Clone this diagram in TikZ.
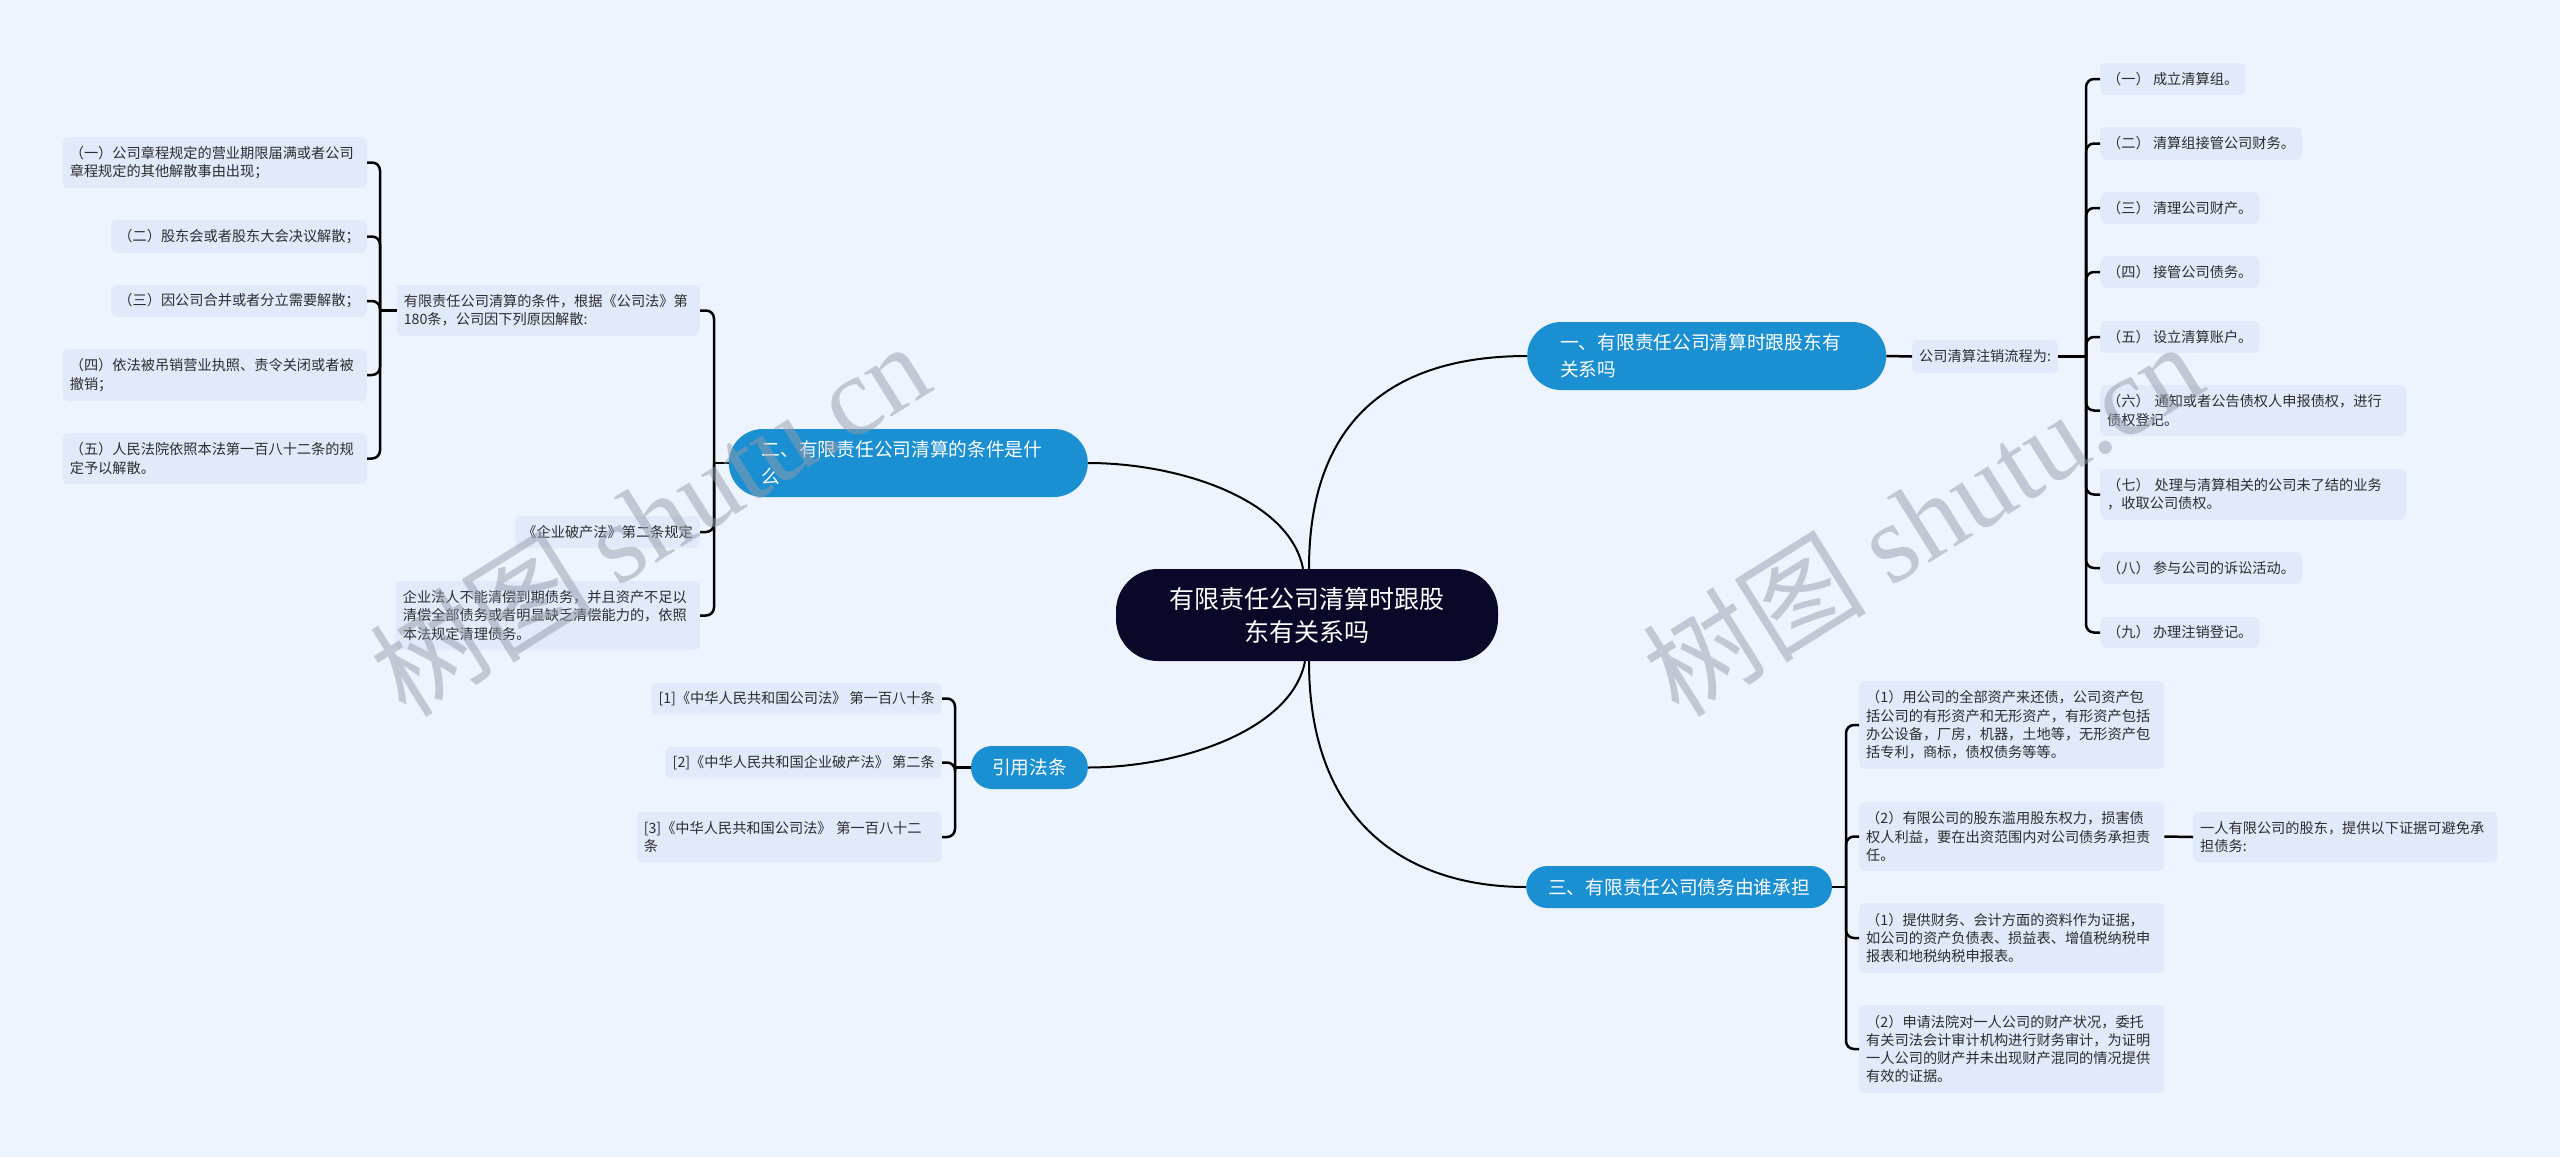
\documentclass[tikz,border=0pt]{standalone}
\usepackage{fontspec}
\setmainfont{Noto Sans CJK SC}
\newfontfamily\wmlatin{Liberation Serif}
\definecolor{bgc}{RGB}{238,244,253}
\definecolor{leafc}{RGB}{224,234,250}
\definecolor{bluec}{RGB}{26,143,210}
\definecolor{rootc}{RGB}{10,8,40}
\definecolor{txtc}{RGB}{45,45,45}
\definecolor{wmc}{RGB}{150,156,170}
\begin{document}
\begin{tikzpicture}[x=1pt,y=-1pt,
 leaf/.style={fill=leafc, rounded corners=5pt, font=\fontsize{14.2}{18.3}\selectfont, align=left, inner xsep=7pt, inner ysep=2pt, text=txtc},
 topic/.style={fill=bluec, text=white, font=\fontsize{18.7}{27}\selectfont, inner ysep=2pt},
 curve/.style={line width=2pt, black},
 link/.style={line width=2.5pt, black, rounded corners=8pt},
 wm/.style={rotate=32, text=wmc, text opacity=0.5, font=\fontsize{112}{112}\selectfont},
]
\fill[bgc] (0,0) rectangle (2560,1157);
\useasboundingbox (0,0) rectangle (2560,1157);

% root and topics
\node[fill=rootc, text=white, rounded corners=42pt, minimum width=382pt, minimum height=92pt, align=center, font=\fontsize{25}{33}\selectfont] (root) at (1307,615) {有限责任公司清算时跟股\\东有关系吗};
\node[topic, anchor=west, text width=293pt, align=left, inner xsep=33pt, minimum height=68pt, rounded corners=34pt] (n1) at (1527,356) {一、有限责任公司清算时跟股东有\\关系吗};
\node[topic, anchor=east, text width=293pt, align=left, inner xsep=33pt, minimum height=68pt, rounded corners=34pt] (n2) at (1088,463) {二、有限责任公司清算的条件是什\\么};
\node[topic, anchor=west, inner xsep=22pt, minimum height=42pt, rounded corners=21pt] (n3) at (1526,887) {三、有限责任公司债务由谁承担};
\node[topic, anchor=east, inner xsep=21pt, minimum height=43pt, rounded corners=21pt] (n4) at (1088,767.5) {引用法条};

% main curves
\draw[curve] ([xshift=2pt]root.north) .. controls +(0,-170) and +(-110,0) .. (n1.west);
\draw[curve] ([xshift=-4pt]root.north) .. controls +(-13,-69) and +(92,0) .. (n2.east);
\draw[curve] ([xshift=-2pt]root.south) .. controls +(-13,69) and +(92,0) .. (n4.east);
\draw[curve] ([xshift=2pt]root.south) .. controls +(0,170) and +(-110,0) .. (n3.west);

% branch one
\node[leaf, anchor=west, minimum height=33pt] (b0) at (1912,356.5) {公司清算注销流程为:};
\node[leaf, anchor=west, minimum height=32pt] (b1) at (2100,79) {（一）~成立清算组。};
\node[leaf, anchor=west, minimum height=33pt] (b2) at (2100,143.5) {（二）~清算组接管公司财务。};
\node[leaf, anchor=west, minimum height=32pt] (b3) at (2100,208) {（三）~清理公司财产。};
\node[leaf, anchor=west, minimum height=32pt] (b4) at (2100,272) {（四）~接管公司债务。};
\node[leaf, anchor=west, minimum height=32pt] (b5) at (2100,337) {（五）~设立清算账户。};
\node[leaf, anchor=west, text width=292pt, minimum height=51pt] (b6) at (2100,410.5) {（六）~通知或者公告债权人申报债权，进行\\债权登记。};
\node[leaf, anchor=west, text width=292pt, minimum height=51pt] (b7) at (2100,494.5) {（七）~处理与清算相关的公司未了结的业务\\，收取公司债权。};
\node[leaf, anchor=west, minimum height=32pt] (b8) at (2100,568) {（八）~参与公司的诉讼活动。};
\node[leaf, anchor=west, minimum height=31pt] (b9) at (2100,632.5) {（九）~办理注销登记。};
\coordinate (jb) at (2086,356.5);
\draw[link] (n1.east) -- (b0.west);
\draw[link] (b0.east) -- (jb);
\foreach \c in {b1,b2,b3,b4,b5,b6,b7,b8,b9} \draw[link] (jb) |- (\c.west);

% branch two
\node[leaf, anchor=east, text width=289pt, minimum height=51pt] (l0) at (700,310.5) {有限责任公司清算的条件，根据《公司法》第\\180条，公司因下列原因解散:};
\node[leaf, anchor=east, minimum height=32pt] (l1) at (700,532) {《企业破产法》第二条规定};
\node[leaf, anchor=east, text width=290pt, minimum height=69pt] (l2) at (700,615.5) {企业法人不能清偿到期债务，并且资产不足以\\清偿全部债务或者明显缺乏清偿能力的，依照\\本法规定清理债务。};
\coordinate (j2) at (714,463);
\draw[link] (n2.west) -- (j2);
\foreach \c in {l0,l1,l2} \draw[link] (j2) |- (\c.east);

\node[leaf, anchor=east, text width=290pt, minimum height=51pt] (a1) at (367,162.5) {（一）公司章程规定的营业期限届满或者公司\\章程规定的其他解散事由出现；};
\node[leaf, anchor=east, minimum height=33pt] (a2) at (367,236.5) {（二）股东会或者股东大会决议解散；};
\node[leaf, anchor=east, minimum height=32pt] (a3) at (367,301) {（三）因公司合并或者分立需要解散；};
\node[leaf, anchor=east, text width=290pt, minimum height=52pt] (a4) at (367,375) {（四）依法被吊销营业执照、责令关闭或者被\\撤销；};
\node[leaf, anchor=east, text width=290pt, minimum height=51pt] (a5) at (367,458.5) {（五）人民法院依照本法第一百八十二条的规\\定予以解散。};
\coordinate (ja) at (380,310.5);
\draw[link] (l0.west) -- (ja);
\foreach \c in {a1,a2,a3,a4,a5} \draw[link] (ja) |- (\c.east);

% citations
\node[leaf, anchor=east, minimum height=31pt] (r1) at (942,698.5) {[1]《中华人民共和国公司法》~第一百八十条};
\node[leaf, anchor=east, minimum height=31pt] (r2) at (942,762.5) {[2]《中华人民共和国企业破产法》~第二条};
\node[leaf, anchor=east, text width=291pt, minimum height=50pt] (r3) at (942,837) {[3]《中华人民共和国公司法》~第一百八十二\\条};
\coordinate (jr) at (955,767.5);
\draw[link] (n4.west) -- (jr);
\foreach \c in {r1,r2,r3} \draw[link] (jr) |- (\c.east);

% branch three
\node[leaf, anchor=west, text width=291pt, minimum height=88pt] (c1) at (1859,725) {（1）用公司的全部资产来还债，公司资产包\\括公司的有形资产和无形资产，有形资产包括\\办公设备，厂房，机器，土地等，无形资产包\\括专利，商标，债权债务等等。};
\node[leaf, anchor=west, text width=291pt, minimum height=69pt] (c2) at (1859,836.5) {（2）有限公司的股东滥用股东权力，损害债\\权人利益，要在出资范围内对公司债务承担责\\任。};
\node[leaf, anchor=west, text width=291pt, minimum height=70pt] (c3) at (1859,938) {（1）提供财务、会计方面的资料作为证据，\\如公司的资产负债表、损益表、增值税纳税申\\报表和地税纳税申报表。};
\node[leaf, anchor=west, text width=291pt, minimum height=88pt] (c4) at (1859,1049) {（2）申请法院对一人公司的财产状况，委托\\有关司法会计审计机构进行财务审计，为证明\\一人公司的财产并未出现财产混同的情况提供\\有效的证据。};
\node[leaf, anchor=west, text width=290pt, minimum height=50pt] (c5) at (2193,837) {一人有限公司的股东，提供以下证据可避免承\\担债务:};
\coordinate (jc) at (1846,887);
\draw[link] (n3.east) -- (jc);
\foreach \c in {c1,c2,c3,c4} \draw[link] (jc) |- (\c.west);
\draw[link] (c2.east) -- (c5.west);

% watermarks
\node[wm] (w1) at (649,518) {树图~{\wmlatin shutu.cn}};
\node[wm] (w2) at (1922,518) {树图~{\wmlatin shutu.cn}};
\end{tikzpicture}
\end{document}
